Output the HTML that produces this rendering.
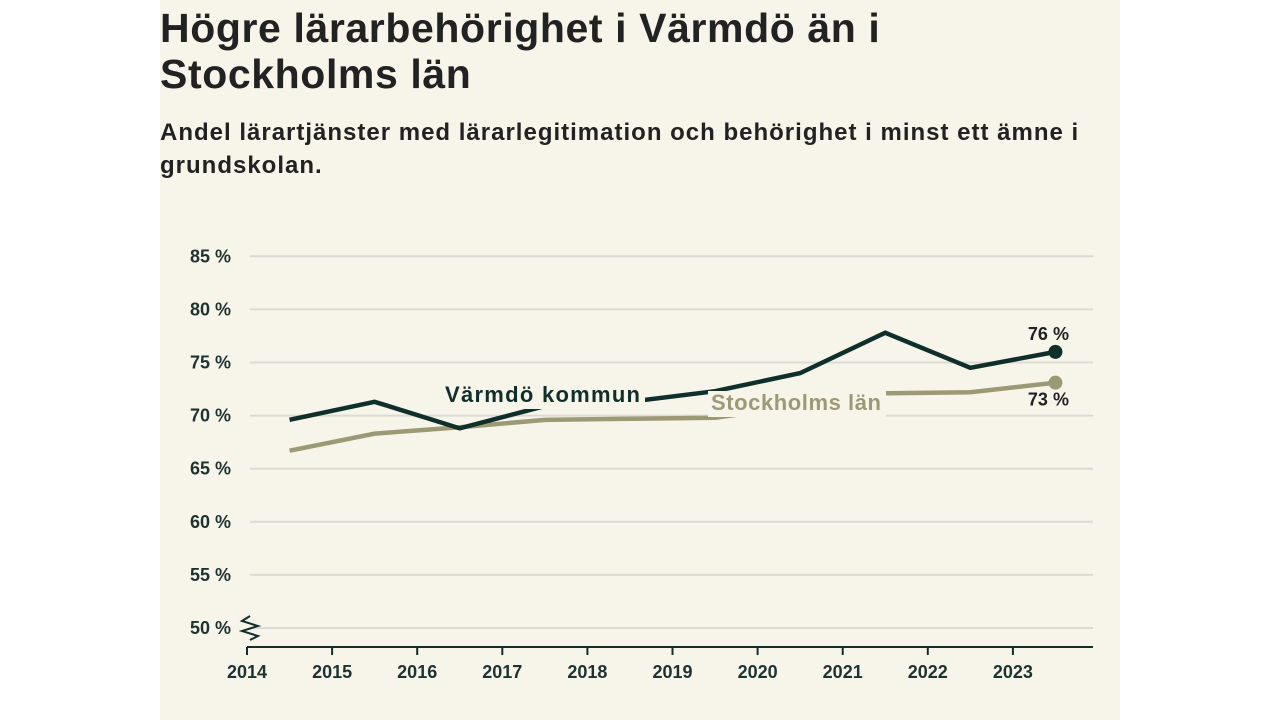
<!DOCTYPE html>
<html><head><meta charset="utf-8"><style>
body{margin:0;width:1280px;height:720px;background:#fff;overflow:hidden;font-family:"Liberation Sans",sans-serif}
#panel{position:absolute;left:160px;top:0;width:960px;height:720px;background:#f7f5ea}
h1{position:absolute;left:160px;top:5px;margin:0;font-size:41px;line-height:46px;letter-spacing:0.6px;font-weight:bold;color:#222;white-space:nowrap}
h2{position:absolute;left:160px;top:116px;margin:0;font-size:24px;line-height:33px;letter-spacing:1px;font-weight:bold;color:#222;white-space:nowrap}
svg{position:absolute;left:0;top:0}
</style></head><body>
<div id="panel"></div>
<h1>Högre lärarbehörighet i Värmdö än i<br>Stockholms län</h1>
<h2>Andel lärartjänster med lärarlegitimation och behörighet i minst ett ämne i<br>grundskolan.</h2>
<svg id="chart" width="1280" height="720"></svg>
<script>
const years=[2014.5,2015.5,2016.5,2017.5,2018.5,2019.5,2020.5,2021.5,2022.5,2023.5];
const varmdo=[69.6,71.3,68.8,70.9,71.3,72.3,74.0,77.8,74.5,76.0];
const stockholm=[66.7,68.3,68.9,69.6,69.7,69.8,70.9,72.1,72.2,73.1];
const yTicks=[50,55,60,65,70,75,80,85];
const xTicks=[2014,2015,2016,2017,2018,2019,2020,2021,2022,2023];
const X=v=>247+(v-2014)*85.1;
const Y=v=>628-(v-50)*10.62;
const svg=document.getElementById('chart');
const NS='http://www.w3.org/2000/svg';
function mk(t,a){const e=document.createElementNS(NS,t);for(const k in a)e.setAttribute(k,a[k]);svg.appendChild(e);return e;}
yTicks.forEach(v=>{
 const g=mk('line',{x1:250,x2:1093,y1:Y(v),y2:Y(v),stroke:'#dcdad4','stroke-width':2});
 
 
 const t=mk('text',{x:231,y:Y(v)+6,'text-anchor':'end','font-size':18,'font-weight':'bold',fill:'#1d3330'});
 t.textContent=v+' %';
 
 
});
const br=mk('polyline',{points:'250,616 242,621 258,626 242,631 258,636 250,640',fill:'none',stroke:'#0f2f2a','stroke-width':2});


const ax=mk('line',{x1:247,x2:1093,y1:647,y2:647,stroke:'#0f2f2a','stroke-width':2});


xTicks.forEach(v=>{
 const l=mk('line',{x1:X(v),x2:X(v),y1:647,y2:655,stroke:'#0f2f2a','stroke-width':2});
 
 
 const t=mk('text',{x:X(v),y:678,'text-anchor':'middle','font-size':18,'font-weight':'bold',fill:'#1d3330'});
 t.textContent=v;
 
 
});
function series(vals,color,name){
 const p=mk('polyline',{points:vals.map((v,i)=>X(years[i])+','+Y(v)).join(' '),fill:'none',stroke:color,'stroke-width':4.5,'stroke-linejoin':'miter'});
 
 
 const n=vals.length-1;
 const c=mk('circle',{cx:X(years[n]),cy:Y(vals[n]),r:7,fill:color});
 
 
}
series(stockholm,'#9c9a74','stockholm');
series(varmdo,'#0f2f2a','varmdo');
function label(x,y,w,txt,color,name){
 const r=mk('rect',{x:x-3,y:y-19,width:w,height:26,fill:'#f7f5ea'});
 
 
 const t=mk('text',{x:x,y:y,'font-size':22,'font-weight':'bold',fill:color,textLength:w-8});
 t.textContent=txt;
 
 
}
label(445,402,203,'Värmdö kommun','#0f2f2a','varmdo');
label(711,410,178,'Stockholms län','#9c9a74','stockholm');
const e1=mk('text',{x:X(years[9])-7,y:Y(varmdo[9])-12,'text-anchor':'middle','font-size':18,'font-weight':'bold',fill:'#222'});
e1.textContent=Math.round(varmdo[9])+' %';


const e2=mk('text',{x:X(years[9])-7,y:Y(stockholm[9])+23,'text-anchor':'middle','font-size':18,'font-weight':'bold',fill:'#222'});
e2.textContent=Math.round(stockholm[9])+' %';


</script>
</body></html>
